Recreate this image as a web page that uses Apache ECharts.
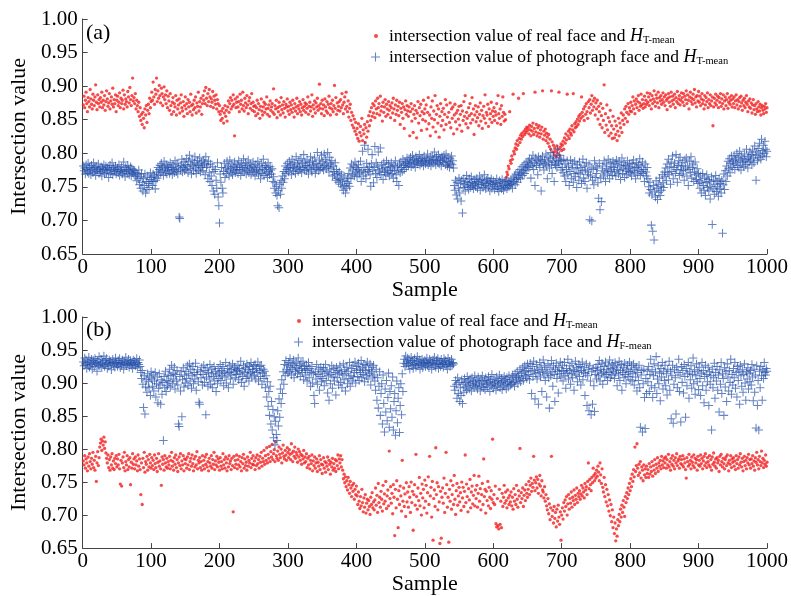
<!DOCTYPE html>
<html><head><meta charset="utf-8">
<script src="https://cdn.jsdelivr.net/npm/echarts@6/dist/echarts.min.js"></script>
<style>html,body{margin:0;padding:0;background:#fff}#c{width:791px;height:596px}</style>
</head><body><div id="c"></div>
<script>
// Panel (a): real face vs H_T-mean
const aReal = [
.872,.885,.868,.879,.891,.874,.862,.883,.877,.869,.895,.881,.873,.866,.888,.879,.871,.884,.902,.876,.865,.887,.874,.880,.869,
.883,.876,.891,.868,.879,.872,.886,.864,.877,.893,.881,.870,.875,.889,.866,.878,.884,.873,.897,.869,.880,.874,.887,.862,.879,
.885,.871,.876,.890,.868,.882,.874,.879,.894,.866,.887,.873,.881,.877,.869,.892,.884,.875,.898,.880,.871,.886,.912,.878,.883,
.874,.889,.866,.879,.871,.862,.876,.855,.868,.849,.858,.843,.861,.852,.838,.866,.857,.871,.846,.864,.873,.859,.882,.868,.877,
.891,.879,.906,.884,.873,.895,.888,.912,.877,.893,.882,.901,.886,.875,.897,.889,.871,.884,.899,.880,.887,.874,.893,.868,.885,
.878,.864,.889,.871,.858,.876,.883,.862,.874,.869,.886,.857,.879,.866,.872,.881,.860,.875,.887,.868,.863,.877,.855,.871,.884,
.866,.874,.859,.880,.869,.876,.862,.888,.871,.857,.873,.865,.879,.868,.884,.860,.875,.870,.891,.863,.877,.869,.882,.858,.874,
.886,.879,.893,.874,.898,.882,.871,.889,.877,.895,.884,.870,.881,.876,.892,.868,.885,.879,.873,.887,.866,.880,.874,.862,.871,
.858,.849,.863,.852,.867,.845,.860,.871,.855,.864,.848,.869,.878,.861,.874,.883,.866,.879,.870,.887,.873,.826,.881,.868,.876,
.884,.869,.877,.862,.888,.873,.879,.866,.891,.871,.863,.882,.875,.868,.886,.872,.859,.878,.883,.867,.874,.889,.864,.876,.870,
.862,.871,.856,.868,.879,.859,.874,.865,.852,.870,.881,.863,.857,.869,.876,.861,.873,.866,.884,.858,.867,.872,.855,.878,.864,
.869,.874,.861,.896,.858,.871,.866,.879,.853,.868,.862,.876,.870,.857,.883,.865,.872,.860,.877,.867,.854,.873,.869,.881,.863,
.870,.858,.876,.865,.872,.861,.879,.867,.854,.874,.863,.869,.882,.859,.871,.866,.877,.862,.873,.857,.868,.880,.864,.870,.875,
.861,.873,.867,.884,.858,.870,.876,.863,.869,.887,.855,.872,.866,.878,.860,.875,.869,.882,.864,.871,.903,.867,.874,.859,.879,
.866,.872,.856,.881,.869,.863,.877,.860,.873,.885,.868,.857,.874,.866,.879,.862,.871,.901,.867,.883,.858,.875,.864,.870,.877,
.863,.880,.868,.889,.872,.859,.876,.884,.866,.891,.870,.862,.878,.854,.867,.873,.849,.861,.842,.856,.838,.851,.833,.846,.828,
.837,.822,.844,.818,.831,.840,.826,.852,.819,.835,.829,.843,.816,.838,.824,.847,.833,.856,.841,.862,.849,.868,.855,.874,.860,
.871,.853,.878,.866,.859,.882,.868,.874,.857,.885,.863,.870,.848,.876,.861,.869,.880,.855,.873,.866,.858,.877,.864,.871,.853,
.868,.875,.860,.882,.866,.849,.872,.858,.879,.864,.870,.856,.876,.843,.867,.861,.874,.852,.869,.837,.865,.878,.858,.871,.863,
.855,.869,.826,.862,.874,.848,.866,.831,.858,.871,.852,.864,.823,.860,.877,.845,.868,.856,.873,.834,.862,.850,.879,.859,.866,
.848,.872,.836,.861,.883,.844,.857,.826,.869,.852,.878,.839,.863,.850,.886,.832,.858,.871,.845,.866,.824,.855,.874,.841,.862,
.849,.867,.835,.858,.880,.843,.872,.854,.781,.861,.846,.875,.838,.866,.852,.869,.829,.857,.873,.847,.860,.836,.864,.851,.870,
.842,.858,.871,.833,.863,.849,.877,.855,.886,.844,.861,.852,.838,.868,.856,.874,.845,.859,.883,.850,.866,.828,.857,.871,.847,
.862,.853,.869,.841,.858,.875,.848,.864,.837,.856,.870,.852,.887,.845,.861,.857,.873,.840,.866,.851,.859,.876,.846,.863,.855,
.868,.849,.862,.857,.874,.845,.886,.859,.852,.866,.843,.871,.855,.884,.861,.848,.858,.850,.764,.772,.768,.781,.777,.862,.789,
.785,.796,.791,.888,.803,.799,.808,.814,.806,.819,.812,.882,.822,.816,.827,.821,.830,.825,.889,.833,.828,.836,.831,.839,.834,
.838,.829,.842,.835,.826,.840,.833,.845,.828,.837,.891,.832,.843,.826,.838,.830,.841,.824,.835,.829,.839,.893,.821,.833,.827,
.836,.819,.830,.824,.815,.828,.810,.821,.806,.893,.817,.802,.812,.798,.808,.803,.795,.811,.800,.806,.891,.797,.809,.814,.804,
.812,.818,.806,.823,.815,.829,.820,.888,.826,.833,.822,.836,.830,.827,.841,.835,.889,.832,.844,.838,.847,.840,.851,.843,.855,
.848,.858,.852,.884,.861,.855,.866,.849,.870,.858,.874,.862,.852,.877,.868,.880,.860,.873,.886,.864,.878,.869,.882,.857,.875,
.866,.879,.851,.870,.862,.843,.874,.856,.838,.867,.849,.902,.831,.859,.842,.872,.835,.853,.826,.847,.864,.830,.841,.822,.855,
.836,.823,.848,.828,.841,.819,.833,.852,.826,.845,.838,.860,.831,.849,.857,.843,.866,.852,.870,.861,.847,.874,.858,.868,.863,
.876,.862,.871,.884,.866,.878,.859,.873,.881,.868,.877,.886,.864,.875,.870,.888,.872,.880,.867,.874,.885,.869,.879,.873,.890,
.876,.884,.871,.889,.879,.866,.886,.874,.881,.893,.877,.870,.887,.882,.875,.891,.868,.883,.878,.886,.873,.880,.890,.876,.884,
.871,.887,.879,.865,.882,.889,.876,.884,.870,.891,.878,.885,.873,.880,.888,.868,.883,.877,.892,.874,.881,.886,.872,.879,.890,
.883,.876,.889,.871,.885,.880,.893,.874,.887,.879,.866,.884,.891,.877,.882,.873,.888,.880,.895,.875,.884,.869,.886,.878,.892,
.876,.885,.871,.881,.889,.874,.879,.866,.886,.872,.883,.877,.890,.868,.880,.874,.887,.871,.878,.884,.841,.869,.882,.875,.888,
.872,.879,.885,.868,.883,.876,.889,.870,.881,.874,.887,.866,.878,.884,.871,.880,.889,.867,.876,.883,.873,.879,.886,.869,.881,
.874,.884,.868,.878,.887,.872,.880,.866,.877,.883,.870,.885,.875,.864,.879,.871,.882,.868,.876,.886,.873,.862,.878,.869,.881,
.867,.875,.860,.872,.880,.865,.871,.858,.874,.866,.862,.877,.869,.863,.873,.857,.868,.871,.864,.859,.870,.866,.874,.861,.868
];
// Panel (a): photograph face vs H_T-mean
const aPhoto = [
.781,.774,.778,.769,.783,.776,.772,.785,.770,.779,.775,.768,.782,.777,.771,.786,.774,.779,.767,.780,.773,.776,.784,.770,.777,
.772,.780,.766,.778,.774,.783,.769,.776,.781,.771,.775,.779,.764,.777,.782,.770,.774,.786,.768,.779,.773,.776,.781,.769,.775,
.778,.771,.783,.767,.776,.773,.780,.769,.774,.787,.772,.765,.779,.775,.770,.782,.776,.768,.773,.780,.766,.777,.771,.775,.769,
.774,.766,.771,.759,.768,.762,.775,.753,.765,.748,.770,.757,.744,.763,.752,.769,.741,.758,.746,.766,.755,.749,.761,.771,.758,
.764,.752,.769,.758,.766,.747,.760,.772,.763,.779,.768,.776,.782,.771,.785,.774,.780,.767,.788,.777,.772,.783,.769,.779,.775,
.781,.770,.786,.774,.779,.768,.783,.776,.771,.789,.777,.773,.785,.769,.780,.705,.703,.775,.782,.791,.772,.779,.787,.774,.783,
.776,.792,.780,.771,.788,.797,.777,.783,.769,.790,.781,.774,.786,.795,.778,.770,.784,.789,.775,.782,.793,.772,.779,.787,.781,
.774,.790,.785,.768,.795,.779,.783,.762,.788,.771,.758,.784,.766,.752,.780,.744,.773,.739,.776,.760,.748,.786,.735,.722,.696,
.769,.757,.779,.748,.741,.773,.785,.764,.778,.770,.788,.775,.781,.766,.790,.777,.772,.784,.768,.780,.774,.787,.771,.779,.776,
.783,.770,.789,.776,.781,.767,.785,.774,.779,.792,.772,.778,.786,.769,.782,.775,.790,.771,.777,.784,.768,.780,.774,.787,.772,
.779,.766,.783,.772,.776,.788,.769,.781,.774,.762,.785,.770,.778,.791,.767,.776,.782,.771,.779,.764,.786,.773,.768,.780,.775,
.769,.777,.758,.765,.748,.756,.741,.751,.737,.722,.745,.719,.754,.739,.760,.748,.766,.757,.773,.762,.781,.770,.776,.785,.779,
.772,.788,.777,.783,.768,.791,.779,.774,.786,.781,.770,.795,.777,.784,.773,.789,.780,.776,.792,.771,.785,.779,.798,.775,.787,
.782,.774,.790,.778,.769,.786,.781,.795,.776,.772,.788,.783,.779,.793,.770,.785,.777,.801,.781,.774,.790,.776,.784,.797,.779,
.788,.775,.799,.782,.791,.777,.786,.801,.780,.772,.794,.784,.778,.789,.766,.781,.773,.768,.786,.760,.776,.763,.770,.757,.772,
.761,.754,.768,.750,.759,.745,.766,.752,.741,.758,.748,.763,.755,.770,.751,.778,.762,.784,.768,.775,.781,.766,.787,.772,.779,
.765,.776,.783,.769,.772,.788,.758,.774,.803,.766,.779,.812,.771,.762,.785,.776,.806,.773,.780,.768,.751,.784,.798,.775,.756,
.779,.810,.770,.786,.764,.781,.802,.775,.772,.808,.768,.783,.777,.761,.786,.772,.779,.768,.789,.775,.771,.784,.766,.780,.774,
.786,.770,.778,.763,.782,.774,.789,.768,.758,.780,.775,.752,.784,.771,.787,.779,.773,.791,.782,.776,.788,.784,.779,.793,.786,
.781,.790,.785,.794,.780,.788,.797,.783,.791,.786,.779,.795,.789,.784,.792,.787,.798,.782,.790,.785,.793,.788,.781,.796,.789,
.784,.792,.787,.799,.783,.790,.786,.794,.781,.789,.796,.785,.791,.802,.788,.783,.795,.790,.786,.798,.784,.793,.789,.781,.795,
.790,.786,.797,.792,.783,.799,.788,.781,.794,.787,.779,.792,.785,.796,.783,.789,.778,.752,.745,.760,.738,.757,.732,.748,.763,
.741,.755,.729,.760,.711,.749,.762,.753,.744,.758,.767,.751,.756,.746,.762,.754,.749,.765,.757,.752,.747,.761,.755,.750,.758,
.763,.748,.757,.753,.766,.745,.759,.754,.761,.749,.756,.768,.752,.747,.760,.755,.763,.750,.758,.744,.756,.762,.748,.753,.759,
.754,.746,.757,.751,.762,.748,.755,.743,.759,.750,.756,.747,.761,.752,.745,.758,.749,.754,.760,.747,.752,.758,.750,.756,.753,
.760,.755,.748,.763,.758,.766,.753,.769,.761,.757,.772,.764,.768,.776,.762,.771,.780,.767,.774,.783,.770,.778,.786,.775,.781,
.788,.779,.792,.784,.763,.790,.781,.797,.776,.786,.752,.793,.782,.789,.768,.795,.785,.779,.791,.744,.788,.796,.783,.775,.790,
.785,.799,.781,.762,.794,.787,.778,.792,.801,.783,.770,.789,.796,.758,.786,.782,.793,.779,.806,.788,.784,.797,.790,.775,.789,
.779,.771,.791,.766,.784,.758,.776,.789,.768,.781,.752,.773,.790,.762,.779,.785,.757,.770,.788,.765,.777,.749,.783,.771,.760,
.787,.769,.779,.755,.774,.791,.763,.781,.758,.775,.786,.748,.772,.768,.784,.701,.766,.778,.699,.760,.776,.753,.789,.764,.781,
.770,.778,.756,.733,.785,.716,.763,.728,.774,.781,.766,.789,.772,.758,.784,.777,.769,.791,.775,.762,.786,.773,.780,.767,.788,
.779,.772,.785,.766,.790,.776,.783,.769,.788,.774,.761,.781,.793,.770,.778,.786,.764,.782,.775,.768,.789,.777,.773,.784,.771,
.780,.766,.785,.774,.790,.771,.778,.762,.786,.779,.769,.783,.775,.792,.767,.781,.773,.787,.770,.776,.758,.784,.772,.766,.779,
.762,.750,.741,.757,.746,.693,.738,.684,.752,.671,.744,.735,.759,.748,.731,.754,.742,.763,.737,.751,.745,.768,.756,.749,.772,
.765,.778,.759,.784,.771,.791,.768,.780,.754,.787,.773,.796,.762,.779,.785,.770,.798,.776,.757,.782,.789,.767,.794,.775,.781,
.769,.786,.774,.760,.790,.778,.793,.766,.781,.752,.776,.788,.771,.795,.763,.779,.784,.758,.772,.787,.768,.761,.777,.755,.770,
.759,.748,.766,.741,.757,.770,.752,.745,.763,.737,.756,.768,.749,.761,.744,.758,.732,.751,.765,.694,.747,.760,.739,.754,.767,
.743,.758,.750,.736,.762,.747,.755,.741,.760,.681,.753,.769,.746,.774,.758,.781,.766,.788,.777,.792,.771,.785,.796,.779,.789,
.784,.797,.776,.791,.787,.800,.782,.794,.779,.803,.789,.775,.796,.786,.792,.780,.799,.788,.783,.806,.791,.778,.795,.787,.802,
.790,.798,.783,.805,.793,.786,.811,.797,.760,.802,.789,.807,.794,.815,.799,.791,.821,.804,.796,.812,.800,.818,.806,.795,.803
];
// Panel (b): real face vs H_T-mean
const bReal = [
.782,.776,.790,.771,.785,.779,.767,.788,.774,.793,.781,.770,.786,.777,.795,.772,.783,.768,.789,.751,.779,.796,.775,.787,.803,
.809,.815,.798,.812,.806,.818,.801,.811,.794,.786,.779,.791,.772,.784,.768,.788,.776,.793,.771,.782,.769,.786,.778,.790,.773,
.785,.776,.792,.770,.747,.783,.744,.779,.788,.772,.795,.767,.781,.776,.790,.769,.784,.773,.787,.746,.780,.771,.793,.777,.785,
.770,.788,.776,.782,.767,.791,.774,.785,.769,.731,.779,.716,.786,.772,.795,.765,.781,.777,.789,.768,.784,.773,.792,.779,.771,
.787,.775,.783,.769,.791,.778,.772,.786,.766,.780,.793,.774,.782,.770,.745,.788,.777,.784,.768,.790,.779,.773,.786,.771,.781,
.776,.789,.770,.783,.795,.774,.781,.768,.787,.777,.791,.772,.784,.766,.779,.788,.775,.793,.770,.782,.776,.790,.767,.785,.778,
.784,.771,.788,.776,.793,.769,.781,.786,.774,.791,.778,.767,.785,.773,.789,.776,.796,.770,.783,.779,.787,.772,.781,.768,.790,
.775,.783,.770,.788,.777,.792,.773,.781,.767,.786,.779,.774,.790,.771,.784,.777,.795,.769,.782,.776,.789,.773,.785,.780,.768,
.787,.774,.781,.770,.793,.776,.784,.771,.788,.779,.767,.785,.773,.790,.778,.782,.769,.786,.775,.705,.789,.772,.783,.777,.791,
.770,.784,.776,.789,.773,.781,.767,.787,.778,.792,.771,.785,.775,.780,.768,.788,.774,.783,.779,.795,.772,.786,.777,.790,.776,
.782,.769,.787,.775,.791,.778,.784,.771,.789,.780,.795,.774,.786,.781,.798,.777,.790,.783,.802,.779,.792,.786,.804,.781,.796,
.788,.807,.784,.793,.799,.781,.811,.790,.786,.797,.783,.803,.792,.787,.800,.779,.794,.806,.789,.785,.798,.791,.783,.802,.795,
.787,.799,.792,.784,.808,.794,.781,.797,.789,.803,.786,.795,.791,.780,.800,.788,.796,.783,.792,.777,.790,.785,.798,.779,.788,
.781,.793,.772,.786,.776,.789,.770,.783,.778,.791,.767,.782,.775,.788,.771,.779,.785,.766,.780,.774,.790,.769,.784,.777,.763,
.776,.787,.771,.781,.765,.779,.774,.788,.769,.783,.777,.762,.780,.773,.786,.768,.778,.771,.784,.766,.782,.775,.791,.770,.785,
.779,.790,.773,.784,.768,.755,.762,.749,.758,.743,.752,.738,.757,.746,.733,.751,.741,.728,.745,.736,.748,.724,.739,.731,.744,
.729,.716,.735,.721,.710,.728,.714,.739,.719,.705,.726,.712,.731,.703,.718,.724,.708,.722,.713,.701,.727,.716,.734,.711,.720,
.708,.723,.741,.715,.730,.704,.748,.719,.727,.712,.736,.724,.706,.745,.717,.732,.721,.751,.710,.729,.738,.714,.797,.725,.743,
.718,.733,.702,.746,.727,.669,.739,.711,.752,.724,.681,.737,.716,.744,.729,.706,.783,.721,.741,.713,.732,.698,.749,.720,.735,
.712,.743,.727,.704,.750,.719,.736,.677,.731,.746,.715,.792,.728,.709,.741,.722,.757,.714,.733,.700,.747,.726,.739,.711,.753,
.721,.745,.703,.734,.758,.716,.789,.729,.742,.697,.751,.662,.725,.738,.713,.802,.731,.749,.708,.743,.720,.657,.736,.665,.727,
.741,.718,.756,.704,.733,.795,.746,.712,.727,.659,.739,.721,.752,.709,.731,.745,.716,.760,.724,.701,.737,.748,.715,.729,.742,
.720,.734,.707,.750,.726,.742,.713,.736,.791,.719,.747,.728,.705,.740,.723,.754,.711,.735,.744,.717,.730,.760,.714,.738,.725,
.745,.712,.733,.759,.721,.740,.708,.731,.748,.716,.785,.728,.739,.703,.736,.722,.751,.714,.742,.727,.710,.737,.724,.815,.719,
.731,.716,.744,.687,.682,.725,.684,.679,.739,.686,.721,.681,.733,.713,.727,.745,.718,.735,.722,.711,.738,.726,.716,.730,.720,
.735,.714,.727,.709,.740,.721,.731,.716,.745,.724,.712,.737,.729,.801,.719,.734,.725,.741,.713,.730,.738,.722,.746,.733,.727,
.739,.751,.731,.745,.756,.736,.748,.742,.789,.753,.737,.749,.758,.741,.754,.733,.747,.760,.744,.729,.752,.738,.735,.726,.743,
.721,.731,.714,.708,.725,.702,.717,.693,.711,.789,.698,.707,.688,.713,.695,.704,.682,.709,.691,.715,.697,.686,.705,.662,.700,
.711,.694,.719,.706,.723,.713,.728,.700,.717,.731,.709,.725,.718,.735,.712,.727,.722,.738,.716,.730,.724,.741,.719,.733,.728,
.737,.724,.732,.745,.729,.741,.735,.726,.748,.738,.743,.731,.751,.779,.740,.754,.746,.737,.757,.749,.771,.760,.752,.763,.756,
.768,.759,.774,.765,.752,.779,.761,.748,.770,.742,.735,.757,.728,.746,.720,.739,.714,.731,.706,.723,.699,.716,.690,.708,.681,
.697,.672,.688,.661,.679,.668,.693,.684,.701,.690,.709,.697,.715,.704,.722,.712,.698,.728,.719,.734,.725,.741,.731,.748,.737,
.755,.743,.762,.751,.769,.758,.803,.766,.775,.808,.771,.760,.777,.764,.781,.756,.773,.768,.752,.776,.761,.770,.757,.774,.763,
.769,.757,.778,.762,.773,.766,.781,.759,.775,.768,.784,.763,.777,.771,.787,.766,.779,.774,.783,.770,.789,.776,.782,.772,.786,
.779,.788,.771,.784,.776,.792,.773,.781,.768,.786,.777,.790,.774,.783,.770,.787,.779,.793,.775,.782,.785,.771,.789,.778,.784,
.776,.790,.773,.785,.779,.769,.756,.787,.781,.774,.792,.777,.783,.770,.788,.780,.775,.791,.772,.786,.779,.784,.768,.789,.776,
.783,.774,.791,.778,.786,.770,.782,.789,.775,.793,.779,.772,.787,.781,.776,.790,.773,.784,.768,.788,.777,.794,.780,.774,.785,
.771,.787,.779,.783,.766,.789,.776,.792,.781,.773,.786,.778,.770,.784,.788,.775,.791,.779,.767,.783,.777,.790,.772,.785,.780,
.787,.774,.782,.769,.790,.778,.784,.771,.788,.776,.793,.780,.773,.786,.767,.781,.789,.775,.783,.770,.787,.779,.792,.776,.784,
.771,.785,.778,.790,.774,.782,.768,.787,.780,.795,.776,.784,.770,.789,.781,.775,.797,.779,.786,.772,.783,.777,.791,.774,.780
];
// Panel (b): photograph face vs H_F-mean
const bPhoto = [
.932,.926,.938,.929,.935,.922,.931,.927,.939,.924,.933,.928,.936,.921,.930,.934,.925,.937,.929,.931,.918,.933,.927,.940,.926,
.930,.936,.923,.932,.928,.941,.925,.934,.929,.937,.922,.931,.926,.935,.929,.933,.920,.930,.936,.927,.932,.924,.938,.929,.931,
.925,.934,.929,.937,.923,.931,.927,.935,.930,.921,.933,.928,.939,.926,.932,.929,.936,.924,.930,.934,.927,.931,.922,.935,.928,
.933,.926,.930,.937,.924,.931,.928,.935,.925,.916,.907,.919,.898,.863,.911,.853,.894,.905,.886,.914,.902,.893,.909,.881,.917,
.906,.895,.912,.888,.903,.916,.879,.899,.909,.870,.892,.914,.897,.868,.905,.883,.901,.813,.910,.893,.918,.887,.904,.896,.912,
.902,.921,.894,.911,.927,.899,.915,.906,.924,.891,.913,.903,.919,.897,.838,.834,.910,.888,.917,.849,.905,.923,.894,.912,.900,
.918,.907,.926,.896,.914,.929,.903,.921,.892,.911,.925,.899,.916,.906,.930,.889,.913,.920,.902,.871,.868,.917,.908,.924,.897,
.913,.927,.901,.919,.852,.909,.923,.895,.916,.906,.928,.898,.914,.921,.893,.910,.925,.903,.918,.887,.912,.899,.922,.907,.915,
.928,.904,.919,.911,.925,.896,.917,.909,.931,.900,.914,.922,.893,.916,.926,.906,.920,.912,.929,.898,.917,.924,.908,.921,.913,
.919,.927,.905,.922,.914,.933,.901,.918,.910,.926,.895,.916,.923,.907,.929,.912,.920,.903,.925,.915,.931,.909,.921,.917,.926,
.912,.928,.906,.922,.916,.932,.903,.919,.925,.910,.927,.898,.915,.921,.907,.918,.893,.911,.879,.902,.865,.887,.851,.895,.838,
.872,.829,.860,.817,.849,.806,.842,.822,.813,.858,.835,.876,.848,.891,.869,.905,.884,.917,.898,.928,.911,.934,.920,.926,.915,
.931,.918,.937,.924,.912,.929,.921,.935,.908,.926,.917,.932,.923,.914,.938,.919,.927,.910,.930,.922,.916,.933,.905,.925,.920,
.912,.927,.903,.919,.931,.908,.922,.895,.916,.925,.900,.914,.881,.869,.917,.906,.928,.898,.913,.921,.889,.910,.924,.902,.918,
.907,.923,.896,.915,.928,.904,.918,.885,.911,.874,.920,.899,.913,.926,.892,.909,.922,.903,.916,.882,.924,.908,.919,.897,.914,
.926,.901,.917,.893,.912,.929,.905,.920,.888,.914,.924,.899,.918,.907,.931,.895,.911,.922,.903,.927,.909,.916,.932,.900,.919,
.925,.910,.930,.904,.921,.916,.934,.908,.923,.913,.928,.902,.919,.926,.911,.932,.906,.920,.915,.929,.897,.918,.924,.909,.927,
.912,.903,.889,.921,.874,.908,.862,.895,.917,.851,.884,.899,.838,.912,.869,.826,.891,.856,.904,.843,.878,.915,.833,.887,.861,
.896,.848,.909,.829,.872,.884,.821,.858,.903,.840,.877,.893,.825,.866,.899,.852,.914,.887,.930,.936,.925,.941,.929,.933,.938,
.927,.935,.921,.931,.939,.926,.934,.922,.930,.937,.928,.924,.933,.940,.926,.929,.935,.921,.932,.927,.936,.923,.931,.929,.934,
.925,.932,.938,.927,.930,.923,.936,.929,.933,.921,.931,.935,.926,.939,.928,.924,.934,.930,.937,.922,.929,.933,.925,.936,.928,
.931,.924,.937,.929,.934,.926,.932,.921,.938,.928,.933,.925,.930,.936,.927,.931,.929,.895,.889,.904,.898,.877,.908,.884,.901,
.872,.893,.881,.905,.869,.898,.886,.907,.894,.901,.889,.910,.896,.903,.891,.906,.899,.888,.908,.897,.902,.893,.911,.900,.895,
.904,.891,.909,.897,.902,.888,.906,.895,.911,.899,.893,.904,.890,.908,.898,.903,.894,.910,.901,.887,.905,.896,.913,.899,.892,
.906,.897,.902,.889,.909,.895,.904,.899,.912,.893,.901,.907,.890,.903,.896,.910,.898,.905,.891,.908,.900,.894,.911,.902,.897,
.905,.898,.912,.901,.909,.895,.914,.903,.908,.918,.899,.911,.906,.921,.902,.915,.909,.924,.904,.917,.926,.911,.919,.907,.929,
.913,.922,.905,.930,.917,.884,.925,.910,.933,.919,.876,.914,.928,.906,.921,.868,.916,.931,.909,.924,.887,.918,.935,.912,.926,
.904,.920,.879,.915,.929,.908,.862,.923,.911,.934,.917,.895,.926,.913,.872,.921,.930,.907,.918,.885,.924,.914,.932,.909,.919,
.927,.903,.918,.931,.911,.892,.922,.915,.936,.906,.919,.926,.898,.914,.930,.908,.921,.889,.917,.933,.912,.924,.902,.918,.928,
.910,.925,.897,.919,.932,.905,.916,.923,.881,.914,.929,.866,.911,.920,.858,.926,.903,.852,.917,.868,.922,.896,.857,.913,.924,
.906,.919,.928,.911,.934,.903,.921,.915,.930,.898,.917,.925,.909,.932,.913,.920,.904,.927,.916,.935,.908,.922,.912,.929,.918,
.924,.907,.931,.915,.920,.896,.926,.912,.933,.904,.919,.928,.889,.916,.923,.908,.930,.913,.899,.921,.927,.910,.917,.932,.905,
.918,.926,.903,.914,.929,.897,.921,.909,.924,.888,.916,.904,.927,.893,.833,.912,.919,.826,.899,.921,.878,.831,.907,.884,.918,
.902,.925,.887,.913,.936,.896,.920,.878,.911,.929,.893,.917,.940,.884,.906,.926,.899,.915,.873,.922,.909,.931,.891,.918,.904,
.927,.896,.914,.882,.921,.905,.933,.889,.918,.846,.911,.927,.839,.898,.920,.908,.853,.924,.893,.916,.936,.887,.912,.841,.925,
.901,.919,.885,.928,.910,.848,.922,.896,.914,.931,.877,.917,.905,.926,.892,.913,.938,.899,.920,.883,.911,.929,.902,.918,.890,
.924,.907,.881,.915,.931,.896,.919,.870,.910,.927,.889,.913,.902,.924,.866,.917,.898,.911,.829,.921,.893,.908,.930,.877,.916,
.903,.925,.889,.912,.856,.920,.898,.931,.884,.914,.907,.851,.923,.894,.917,.872,.929,.909,.888,.919,.901,.936,.883,.913,.897,
.922,.908,.931,.892,.916,.879,.925,.904,.918,.868,.927,.911,.895,.920,.886,.913,.929,.900,.874,.917,.906,.923,.891,.915,.902,
.919,.897,.928,.909,.873,.921,.886,.912,.832,.926,.866,.904,.829,.918,.893,.925,.911,.874,.920,.907,.931,.916,.912,.922,.918
];
const xTickValues = [0,100,200,300,400,500,600,700,800,900,1000];
const yTickLabels = ['0.65','0.70','0.75','0.80','0.85','0.90','0.95','1.00'];
const panelLabels = ['(a)','(b)'];
const legendNames = {
  aReal: '{t|intersection value of real face and }{h|H}{s|T-mean}',
  aPhoto: '{t|intersection value of photograph face and }{h|H}{s|T-mean}',
  bReal: '{t|intersection value of real face and }{h|H}{s|T-mean}',
  bPhoto: '{t|intersection value of photograph face and }{h|H}{s|F-mean}'
};

const FONT = '"Liberation Serif","Times New Roman",serif';
const PLUS = 'path://M8.8,0H11.2V20H8.8ZM0,8.8H20V11.2H0Z';
const RED = '#f41e1e';
const BLUE = 'rgba(34,78,170,0.88)';
const pairs = arr => arr.map((v, i) => [i + 1, v]);

const chart = echarts.init(document.getElementById('c'), null, {renderer: 'canvas'});
const axisCol = '#444';
const xAxisCfg = i => ({
  gridIndex: i, type: 'value', min: 0, max: 1000, interval: 100,
  name: 'Sample', nameLocation: 'middle', nameGap: 24,
  nameTextStyle: {fontFamily: FONT, fontSize: 22, color: '#000'},
  axisLine: {lineStyle: {color: axisCol, width: 1}},
  axisTick: {inside: true, length: 5, lineStyle: {color: axisCol}},
  axisLabel: {fontFamily: FONT, fontSize: 21, color: '#000', margin: 3,
    formatter: v => xTickValues.includes(v) ? String(v) : ''},
  splitLine: {show: false}
});
const yAxisCfg = i => ({
  gridIndex: i, type: 'value', min: 0.65, max: 1.0, interval: 0.05,
  name: 'Intersection value', nameLocation: 'middle', nameGap: 45,
  nameTextStyle: {fontFamily: FONT, fontSize: 22, color: '#000'},
  axisLine: {show: true, lineStyle: {color: axisCol, width: 1}},
  axisTick: {show: true, inside: true, length: 5, lineStyle: {color: axisCol}},
  axisLabel: {fontFamily: FONT, fontSize: 21, color: '#000', margin: 5,
    formatter: v => yTickLabels[Math.round((v - 0.65) / 0.05)]},
  splitLine: {show: false}
});
const rich = {
  t: {fontFamily: FONT, fontSize: 17.5, color: '#000'},
  h: {fontFamily: FONT, fontSize: 18, fontStyle: 'italic', color: '#000'},
  s: {fontFamily: FONT, fontSize: 10.5, color: '#000', padding: [9, 0, 0, 0]}
};
const legendCfg = (name, left, top, w, icon) => ({
  data: [name], left, top, padding: 0, itemWidth: w, itemHeight: w, icon,
  selectedMode: false,
  formatter: n => legendNames[n],
  textStyle: {rich, padding: [0, 0, 0, w < 6 ? 6 : 4]}
});

chart.setOption({
  animation: false,
  backgroundColor: '#fff',
  title: [
    {text: panelLabels[0], left: 86, top: 22, padding: 0, textStyle: {fontFamily: FONT, fontSize: 22, fontWeight: 'normal', color: '#000'}},
    {text: panelLabels[1], left: 86, top: 319, padding: 0, textStyle: {fontFamily: FONT, fontSize: 22, fontWeight: 'normal', color: '#000'}}
  ],
  grid: [
    {left: 77, right: 24, top: 19, height: 235},
    {left: 77, right: 24, top: 317, height: 236}
  ],
  xAxis: [xAxisCfg(0), xAxisCfg(1)],
  yAxis: [yAxisCfg(0), yAxisCfg(1)],
  legend: [
    legendCfg('aReal', 374, 27, 4, 'circle'),
    legendCfg('aPhoto', 371, 48, 9, PLUS),
    legendCfg('bReal', 297, 312, 4, 'circle'),
    legendCfg('bPhoto', 294, 333, 9, PLUS)
  ],
  series: [
    {name: 'aReal', type: 'scatter', xAxisIndex: 0, yAxisIndex: 0, data: pairs(aReal), symbol: 'circle', symbolSize: 3.3, itemStyle: {color: RED}},
    {name: 'aPhoto', type: 'scatter', xAxisIndex: 0, yAxisIndex: 0, data: pairs(aPhoto), symbol: PLUS, symbolSize: 8.5, itemStyle: {color: BLUE}},
    {name: 'bReal', type: 'scatter', xAxisIndex: 1, yAxisIndex: 1, data: pairs(bReal), symbol: 'circle', symbolSize: 3.3, itemStyle: {color: RED}},
    {name: 'bPhoto', type: 'scatter', xAxisIndex: 1, yAxisIndex: 1, data: pairs(bPhoto), symbol: PLUS, symbolSize: 8.5, itemStyle: {color: BLUE}}
  ]
});
</script></body></html>
